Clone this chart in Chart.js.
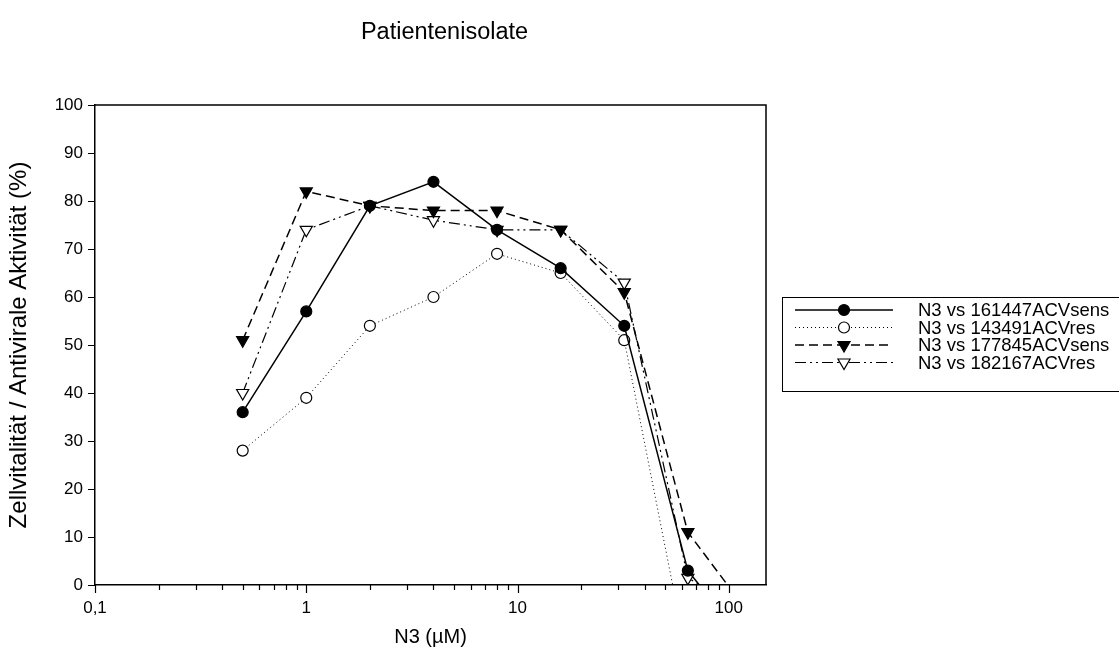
<!DOCTYPE html>
<html>
<head>
<meta charset="utf-8">
<script src="https://cdn.jsdelivr.net/npm/chart.js@4/dist/chart.umd.min.js"></script>
<style>
  html, body { margin: 0; padding: 0; background: #fff; }
</style>
</head>
<body>
<canvas id="chart" width="1119" height="663"></canvas>
<script>
// N3 concentration (µM), twofold dilutions
const concentrations = [0.5, 1, 2, 4, 8, 16, 32, 64, 125];

const seriesNames = [
  'N3 vs 161447ACVsens',
  'N3 vs 143491ACVres',
  'N3 vs 177845ACVsens',
  'N3 vs 182167ACVres'
];

// % Zellvitalität / antivirale Aktivität per isolate
const sens161447 = [36, 57, 79, 84, 74, 66, 54, 3, -13];
const res143491  = [28, 39, 54, 60, 69, 65, 51, -16, null];
const sens177845 = [51, 82, 79, 78, 78, 74, 61, 11, -6];
const res182167  = [40, 74, 79, 76, 74, 74, 63, 1.5, -6];

const yTicks = [0, 10, 20, 30, 40, 50, 60, 70, 80, 90, 100];
const xTickLabels = { 0.1: '0,1', 1: '1', 10: '10', 100: '100' };

const FONT = 'Arial, "Liberation Sans", sans-serif';

function pts(values) {
  return concentrations.map((x, i) => ({ x: x, y: values[i] }));
}

const styles = [
  { dash: [], width: 1.5, point: 'circle', radius: 5.5, fill: '#000', rot: 0 },
  { dash: [1, 3], width: 1, point: 'circle', radius: 5.5, fill: '#fff', rot: 0 },
  { dash: [9, 5], width: 1.5, point: 'triangle', radius: 7, fill: '#000', rot: 180 },
  { dash: [11, 4, 2, 4, 2, 4], width: 1.2, point: 'triangle', radius: 7, fill: '#fff', rot: 180 }
];

const allValues = [sens161447, res143491, sens177845, res182167];

const datasets = allValues.map((vals, i) => ({
  label: seriesNames[i],
  data: pts(vals),
  borderColor: '#000',
  borderWidth: styles[i].width,
  borderDash: styles[i].dash,
  pointStyle: styles[i].point,
  pointRadius: styles[i].radius,
  pointRotation: styles[i].rot,
  pointBackgroundColor: styles[i].fill,
  pointBorderColor: '#000',
  pointBorderWidth: 1.2,
  tension: 0,
  spanGaps: false
}));

// frame, tick marks, title and legend
const decor = {
  id: 'decor',
  afterDraw(chart) {
    const ctx = chart.ctx;
    const a = chart.chartArea;
    const xs = chart.scales.x, ys = chart.scales.y;
    ctx.save();
    ctx.strokeStyle = '#000';
    ctx.lineWidth = 1.5;
    ctx.beginPath();
    ctx.moveTo(a.left, a.top);
    ctx.lineTo(a.right, a.top);
    ctx.lineTo(a.right, a.bottom);
    ctx.stroke();

    ctx.lineWidth = 1.2;
    ctx.beginPath();
    xs.ticks.forEach(t => {
      const v = t.value;
      const m = v / Math.pow(10, Math.floor(Math.log10(v) + 1e-9));
      const r = Math.round(m);
      if (Math.abs(m - r) > 1e-6 || r < 1 || r > 9) return;
      const px = Math.round(xs.getPixelForValue(v)) + 0.5;
      ctx.moveTo(px, a.bottom);
      ctx.lineTo(px, a.bottom + (r === 1 ? 8 : 5));
    });
    yTicks.forEach(v => {
      const py = Math.round(ys.getPixelForValue(v)) + 0.5;
      ctx.moveTo(a.left, py);
      ctx.lineTo(a.left - 7, py);
    });
    ctx.stroke();

    ctx.fillStyle = '#000';
    ctx.font = '23.5px ' + FONT;
    ctx.textAlign = 'center';
    ctx.textBaseline = 'middle';
    ctx.fillText('Patientenisolate', (a.left + a.right) / 2 + 14, 33);

    // legend box
    ctx.lineWidth = 1;
    ctx.strokeRect(782.5, 297.5, 360, 94);
    ctx.font = '18.5px ' + FONT;
    ctx.textAlign = 'left';
    chart.data.datasets.forEach((ds, i) => {
      const y = 310 + i * 17.5;
      const st = styles[i];
      ctx.save();
      ctx.setLineDash(st.dash);
      ctx.lineWidth = st.width;
      ctx.beginPath();
      ctx.moveTo(795, y);
      ctx.lineTo(893, y);
      ctx.stroke();
      ctx.restore();
      ctx.save();
      ctx.fillStyle = st.fill;
      ctx.lineWidth = 1.2;
      Chart.helpers.drawPoint(ctx, {
        pointStyle: st.point, radius: st.radius, rotation: st.rot, borderWidth: 1.2
      }, 844, y);
      ctx.restore();
      ctx.fillText(ds.label, 918, y + 1);
    });
    ctx.restore();
  }
};

new Chart(document.getElementById('chart'), {
  type: 'line',
  data: { datasets: datasets },
  plugins: [decor],
  options: {
    responsive: false,
    animation: false,
    layout: { padding: { top: 105, right: 353, bottom: 0, left: 0 } },
    plugins: { legend: { display: false }, title: { display: false }, tooltip: { enabled: false } },
    scales: {
      x: {
        type: 'logarithmic',
        min: 0.1,
        max: 150,
        afterFit: s => { s.height = 78; },
        grid: { display: false, drawTicks: false },
        border: { display: true, color: '#000', width: 1.5 },
        ticks: {
          autoSkip: false,
          maxRotation: 0,
          padding: 13,
          color: '#000',
          font: { family: FONT, size: 17 },
          callback: v => xTickLabels[v] || ''
        },
        title: {
          display: true,
          text: 'N3 (µM)',
          color: '#000',
          font: { family: FONT, size: 20 },
          padding: { top: 0, bottom: 14 }
        }
      },
      y: {
        min: 0,
        max: 100,
        afterFit: s => { s.width = 95; },
        afterBuildTicks: s => { s.ticks = yTicks.map(v => ({ value: v })); },
        grid: { display: false, drawTicks: false },
        border: { display: true, color: '#000', width: 1.5 },
        ticks: {
          padding: 12,
          color: '#000',
          font: { family: FONT, size: 17 }
        },
        title: {
          display: true,
          text: 'Zellvitalität / Antivirale Aktivität (%)',
          color: '#000',
          font: { family: FONT, size: 24 },
          padding: { top: 5, bottom: 0 }
        }
      }
    }
  }
});
</script>
</body>
</html>
